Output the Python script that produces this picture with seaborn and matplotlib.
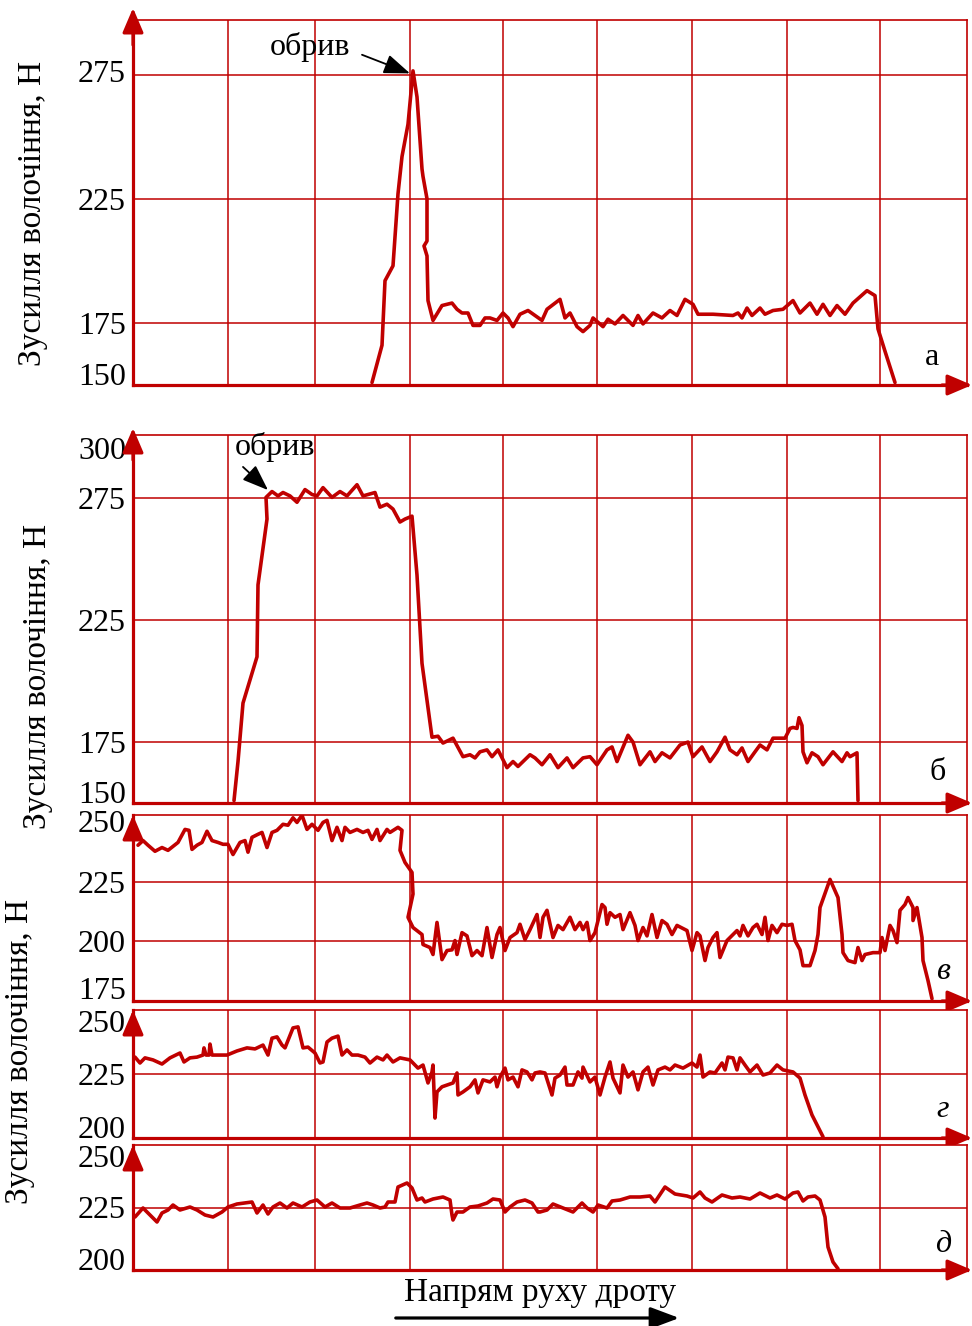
import matplotlib
matplotlib.use('Agg')
import matplotlib.pyplot as plt
import seaborn as sns

sns.set_theme(style='white')
plt.rcParams['font.family'] = ['Liberation Serif', 'DejaVu Serif']
plt.rcParams['text.color'] = 'black'
plt.rcParams['ytick.color'] = 'black'

RED = '#C00000'

# ---------------- data (position along the wire, drawing force in N) -------------
xa = [239, 249, 252, 260, 265, 269, 275, 280, 284, 289, 290, 294, 294, 291, 294, 295, 300, 309, 319, 324, 329, 335, 340, 347, 352, 357, 364,
      370, 375, 380, 387, 395, 402, 409, 414, 427, 432, 437, 444, 450, 457, 460, 470, 475, 482, 490, 500, 505, 510, 520, 529, 537, 544,
      552, 560, 565, 580, 600, 605, 609, 614, 619, 627, 632, 640, 650, 660, 667, 677, 684, 690, 697, 704, 712, 720, 734, 742, 745, 752, 762]
ya = [151, 166, 192, 198, 227, 242, 255, 276.5, 266, 237, 234, 225, 208, 206, 202, 184, 176, 182, 183, 180.5, 179, 179, 174, 174, 177, 177, 176,
      179, 177, 173.5, 178.5, 180, 178, 176, 180.5, 184.5, 177, 179, 173.5, 171.5, 174, 177, 173.5, 176.5, 174.6, 178, 174, 178, 174.6, 179, 177, 180, 178,
      184.5, 182.5, 178.5, 178.5, 178, 179, 177, 181, 178, 181, 178.5, 180, 180.5, 184, 179, 183, 178.5, 182.5, 178, 182, 178.5, 183, 188, 186, 172.6, 163.6, 151]

xb = [101, 105, 110, 124, 125, 134, 133, 139, 145, 150, 157, 164, 172, 179, 184, 190, 199, 207, 214, 224, 230, 242, 247, 254, 260, 267, 272,
      279, 284, 289, 299, 305, 310, 320, 330, 337, 342,
      347, 354, 359, 365, 374, 380, 385, 397, 402, 409, 417, 425, 434, 440, 450, 457, 464, 474, 479, 484, 495, 500, 507, 517, 522, 529,
      537, 547, 555, 560, 569, 577, 584, 592, 597, 604, 609, 615, 622, 627, 634, 640, 644, 652, 657, 660, 664, 666, 669, 670, 674, 679,
      685, 690, 700, 709, 714, 717, 724, 725]
yb = [151, 167, 191, 210, 239.5, 266.5, 275.4, 277.8, 276, 277.4, 276, 273.4, 278.6, 276.6, 276, 279.4, 275.4, 277.8, 276, 280.6, 276, 277.4,
      271.4, 272.6, 270.6, 265.3, 266.5, 267.7, 243.5, 207.3, 177, 177.4, 174.6, 176.6, 169, 169.8, 168.5,
      171, 171.8, 169, 171.8, 164.5, 167, 165, 169.8, 168.5, 165.7, 169.8, 164.5, 168.5, 164.5, 168.5, 169, 165.7, 171.8, 173, 167, 177.8,
      175, 165.7, 171, 167, 170.6, 168.5, 173.8, 175, 169, 173, 167, 171, 177, 171.8, 169.8, 172.6, 167, 171, 173.8, 171.8, 176.6, 176.6,
      176.6, 180.6, 181, 180.6, 185, 181.8, 171, 166.5, 170.6, 169, 165.7, 171, 167, 170.6, 169, 170.6, 151]

xv = [5, 10, 15, 22, 29, 35, 45, 52, 56, 59, 64, 69, 74, 79, 85, 90, 95, 100, 107, 112, 115, 119, 125, 129, 134, 139, 144, 150, 155, 160,
      164, 169, 174, 179, 185, 190, 194, 199, 204, 209, 212, 217, 224, 230, 235, 239, 244, 247, 254, 257, 265, 269, 267, 272, 279, 280, 275,
      280, 289, 290, 297, 300, 304, 309, 314, 319, 322, 324, 329, 334, 339, 344, 349, 354, 359, 364, 367, 372, 377, 384, 387, 392, 397, 404,
      407, 410, 414, 420, 425, 430, 437, 442, 447, 450, 454, 457, 462, 469, 472, 474, 477, 482, 487, 490, 497, 502, 505, 510, 514, 519, 524,
      529, 534, 539, 544, 554, 559, 564, 567, 572, 575, 580, 584, 587, 594, 604, 607, 610, 615, 620, 624, 629, 632, 635, 639, 644, 649, 654,
      659, 662, 667, 670, 677, 682, 685, 687, 697, 705, 709, 710, 715, 722, 725, 729, 732, 740, 747, 749, 752, 757, 760, 764, 767, 772, 775,
      780, 780, 784, 789, 790, 795, 799]
yv = [241, 243, 241, 238.4, 240, 238.8, 242.2, 247.8, 247.4, 239.2, 241, 242.2, 247, 243, 242.2, 241.4, 241.4, 237, 242.2, 243, 238, 244.4,
      245.7, 246.5, 240, 246.5, 247.4, 250, 249.6, 252.8, 250.8, 253.9, 247.8, 250, 247.4, 250.8, 251.7, 243, 248.7, 243, 248.7, 246.5, 247.8,
      246.5, 247.4, 243.5, 247.8, 243, 247.8, 246.5, 248.7, 247.4, 238.8, 233.6, 229.3, 220, 210, 205.6, 202.6, 198.3, 197, 194, 207.8, 191.8,
      195.7, 196, 200, 194, 203.4, 202, 193.5, 195.7, 193.5, 205.6, 192.7, 202.6, 205.6, 195.7, 201.3, 203.4, 207, 200.4, 204.7, 211.2,
      201.3, 210, 213, 201.3, 206.5, 204.7, 210, 204.7, 207.8, 204.7, 207.8, 200, 203.4, 215.5, 214.2, 207, 212, 210, 211.2, 204.7, 212, 206.5,
      200, 205.6, 202, 211.2, 201.3, 208.6, 207, 202.6, 206.5, 204.3, 195.7, 203.4, 202, 191.4, 197, 201.3, 203.4, 192.7, 200, 204.3, 202,
      206.5, 202, 205.6, 207, 202.6, 210, 200, 206.5, 203.4, 207, 206.5, 207, 200, 196, 189.2, 189.2, 195.7, 202.6, 214.2, 226.3, 218.5, 202.6,
      194.8, 191.4, 190.5, 197, 191.4, 194, 194.8, 194.8, 201.3, 195.7, 206.5, 204.3, 199.1, 213, 215.5, 218.5, 214.2, 208.6, 214.2, 201.3,
      191.4, 182.8, 175]

xg = [2, 7, 12, 20, 29, 37, 47, 51, 57, 64, 70, 71, 73, 76, 77, 79, 94, 104, 114, 122, 130, 135, 139, 144, 149, 152, 160, 165, 170, 175, 182,
      187, 190, 194, 199, 205, 209, 214, 219, 225, 232, 237, 244, 250, 254, 260, 267, 277, 285, 290, 295, 299, 300, 302, 304, 309, 320, 324,
      325, 330, 337, 342, 345, 350, 357, 362, 364, 367, 372, 375, 380, 385, 389, 394, 399, 402,
      407, 412, 419, 422, 427, 432, 434, 440, 445, 449, 450, 457, 462, 467, 472, 477, 480, 487, 490, 495, 500, 505, 510, 515, 520, 525, 532,
      537, 542, 550, 559, 564, 567, 570, 577, 582, 589, 592, 595, 600, 604, 607, 612, 617, 624, 630, 637, 644, 650, 660, 667, 672, 679, 690]
yg = [231.6, 229.3, 231.3, 230.5, 228.9, 231.3, 233.2, 229.7, 231.3, 231.6, 232.4, 235.2, 232.4, 232.4, 236.7, 232.4, 232.4, 234, 235.2,
      234.8, 236.3, 232.4, 239, 239.5, 236.3, 235.2, 243, 243.4, 235.2, 235.5, 233.2, 229.3, 229.7, 237.5, 239, 239.8, 232.4, 234.4, 232.4,
      232.4, 231.6, 229.3, 231.6, 230.5, 232.4, 229.7, 231.3, 230.5, 227.3, 228.5, 221.5, 225.8, 228.5, 207.8, 218, 220, 221.5, 225.4, 216.8,
      218, 220, 222.7, 217.6, 222.7, 221.9, 223.8, 220, 223.8, 227.3, 222.7, 223.8, 220, 226.6, 225.8, 222.7, 225.4,
      225.8, 225.4, 216.8, 223.4, 224.6, 227.7, 220.7, 220.7, 225.8, 223.4, 227.7, 221.9, 223.8, 216.8, 223.8, 229.7, 223.4, 217.6, 228.5,
      223.8, 225.8, 218.8, 225.8, 227.7, 220.7, 226.6, 227.7, 226.6, 228.5, 227.3, 229.3, 227.7, 232.4, 223.8, 225.8, 225.4, 229.3, 226.6,
      231.6, 231.3, 226.6, 231.3, 228.5, 225.8, 228.5, 224.6, 225.4, 228.5, 226.6, 225.8, 223.4, 216.8, 209, 200.5]

xd = [2, 10, 17, 24, 29, 35, 40, 47, 57, 64, 72, 80, 89, 95, 104, 119, 124, 130, 135, 140, 147, 154, 160, 169, 177, 184, 192, 199, 207, 217,
      227, 234, 240, 247, 252, 255, 262, 265, 274, 279, 284, 289, 292, 300, 310, 317, 319, 320, 324, 330, 337, 345, 354, 360, 367, 372, 377,
      384, 392, 399, 405,
      407, 414, 420, 430, 440, 449, 454, 460, 465, 474, 479, 487, 497, 507, 517, 522, 532, 542, 554, 560, 567, 572, 579, 589, 599, 607, 617,
      627, 637, 644, 652, 660, 665, 670, 675, 682, 687, 692, 695, 700, 705]
yd = [221.2, 224.8, 222, 219.2, 222.8, 224, 226, 224, 225.2, 224, 222, 221.2, 223.2, 225.2, 226.4, 227.2, 222.8, 226, 222.4, 225.2, 226.8,
      224.8, 226.8, 225.2, 227.2, 228, 225.2, 226.8, 224.8, 224.8, 226, 226.8, 226, 224.8, 225.2, 227.2, 227.2, 233.2, 234.8, 232.8, 228, 228.8,
      227.2, 228.4, 229.2, 228, 222, 220, 223.2, 223.2, 225.2, 225.6, 226.8, 228.4, 228, 223.2, 225.2, 227.2, 228, 226.8, 223.2,
      223.2, 224, 226.4, 224.8, 223.2, 226.8, 224.8, 223.2, 226, 224.8, 227.6, 228, 229.2, 229.2, 229.6, 227.2, 233.2, 230.4, 229.6, 228.8,
      231.2, 228.8, 227.2, 230, 228.8, 229.2, 228.4, 230.8, 228.8, 230, 228.4, 230.8, 231.2, 227.6, 229.2, 229.6, 228, 221.2, 209.2, 203.2, 200.5]

grid_x = [95, 182, 277, 370, 464, 559, 654, 747]

panels = [
    dict(x=xa, y=ya, ylim=(150, 297), ticks=[150, 175, 225, 275], grid=[175, 225, 275], letter='а', it=False,
         box=(20, 385), over=12, lpos=(0.958, 0.074), topva='center'),
    dict(x=xb, y=yb, ylim=(150, 301), ticks=[150, 175, 225, 275, 300], grid=[175, 225, 275], letter='б', it=False,
         box=(435, 803), over=7, lpos=(0.965, 0.084), topva='top'),
    dict(x=xv, y=yv, ylim=(174, 254), ticks=[175, 200, 225, 250], grid=[200, 225], letter='в', it=True,
         box=(815, 1001), over=0, lpos=(0.971, 0.156), topva='center'),
    dict(x=xg, y=yg, ylim=(200, 250), ticks=[200, 225, 250], grid=[225], letter='г', it=True,
         box=(1010, 1138), over=0, lpos=(0.971, 0.219), topva='top'),
    dict(x=xd, y=yd, ylim=(200, 250), ticks=[200, 225, 250], grid=[225], letter='д', it=True,
         box=(1145, 1270), over=0, lpos=(0.971, 0.2), topva='top'),
]

W, H = 972, 1326
fig = plt.figure(figsize=(W / 100, H / 100), dpi=100)
FS = 23
LFS = 24
AST = '-|>,head_length=0.75,head_width=0.32'
axes = []
for p in panels:
    assert len(p['x']) == len(p['y']), (p['letter'], len(p['x']), len(p['y']))
    top, bot = p['box']
    hh = bot - top
    ax = fig.add_axes([133 / W, 1 - bot / H, 834 / W, hh / H])
    axes.append(ax)
    ax.set_xlim(0, 834)
    ax.set_ylim(*p['ylim'])
    for gx in grid_x:
        ax.axvline(gx, color=RED, lw=1.1, zorder=1)
    for gy in p['grid']:
        ax.axhline(gy, color=RED, lw=1.1, zorder=1)
    sns.lineplot(x=p['x'], y=p['y'], sort=False, estimator=None, color=RED, lw=2.6, ax=ax, zorder=3)
    ax.lines[-1].set_solid_joinstyle('round')
    ax.lines[-1].set_solid_capstyle('round')
    ax.set_xlabel('')
    ax.set_ylabel('')
    ax.set_xticks([])
    ax.set_yticks(p['ticks'])
    ax.set_yticklabels([str(t) for t in p['ticks']], fontsize=FS, color='black')
    ax.tick_params(axis='y', length=0, pad=5, labelcolor='black')
    lbls = ax.get_yticklabels()
    lbls[0].set_va('baseline')
    lbls[-1].set_va(p['topva'])
    for side in ['top', 'right']:
        ax.spines[side].set_color(RED)
        ax.spines[side].set_linewidth(1.2)
    for side in ['left', 'bottom']:
        ax.spines[side].set_color(RED)
        ax.spines[side].set_linewidth(2.3)
    # axis arrow heads
    ax.annotate('', xy=(0, 1 + p['over'] / hh), xytext=(0, 1 - 25 / hh), xycoords='axes fraction',
                arrowprops=dict(arrowstyle=AST, color=RED, lw=2.3, shrinkA=0, shrinkB=0, mutation_scale=20),
                annotation_clip=False)
    ax.annotate('', xy=(1 + 5 / 834, 0), xytext=(1 - 25 / 834, 0), xycoords='axes fraction',
                arrowprops=dict(arrowstyle=AST, color=RED, lw=2.3, shrinkA=0, shrinkB=0, mutation_scale=20),
                annotation_clip=False)
    ax.text(p['lpos'][0], p['lpos'][1], p['letter'], transform=ax.transAxes, fontsize=FS,
            fontstyle='italic' if p['it'] else 'normal', ha='center', va='center', color='black')

# annotations "обрив"
axa, axb = axes[0], axes[1]
axa.text(177, 286, 'обрив', fontsize=FS, ha='center', va='center', color='black')
axa.annotate('', xy=(277, 275.5), xytext=(229, 283),
             arrowprops=dict(arrowstyle='-|>,head_length=0.8,head_width=0.3', color='black', lw=1.3,
                             shrinkA=0, shrinkB=0, mutation_scale=20))
axb.text(142, 296, 'обрив', fontsize=FS, ha='center', va='center', color='black')
axb.annotate('', xy=(135, 278.4), xytext=(110, 287.9),
             arrowprops=dict(arrowstyle='-|>,head_length=0.8,head_width=0.3', color='black', lw=1.3,
                             shrinkA=0, shrinkB=0, mutation_scale=20))

# y labels
ylab = 'Зусилля волочіння, Н'
fig.text(33 / W, 1 - 213 / H, ylab, rotation=90, fontsize=LFS, ha='center', va='center', color='black')
fig.text(38 / W, 1 - 676 / H, ylab, rotation=90, fontsize=LFS, ha='center', va='center', color='black')
fig.text(20 / W, 1 - 1051 / H, ylab, rotation=90, fontsize=LFS, ha='center', va='center', color='black')

# x label with direction arrow
fig.text(540 / W, 1 - 1293 / H, 'Напрям руху дроту', fontsize=LFS, ha='center', va='center', color='black')
fig.add_artist(matplotlib.patches.FancyArrowPatch(
    (393 / W, 1 - 1318 / H), (682 / W, 1 - 1318 / H), transform=fig.transFigure,
    arrowstyle='-|>,head_length=0.8,head_width=0.3', mutation_scale=22, color='black', lw=2.3))

fig.savefig('out.png', dpi=100)
